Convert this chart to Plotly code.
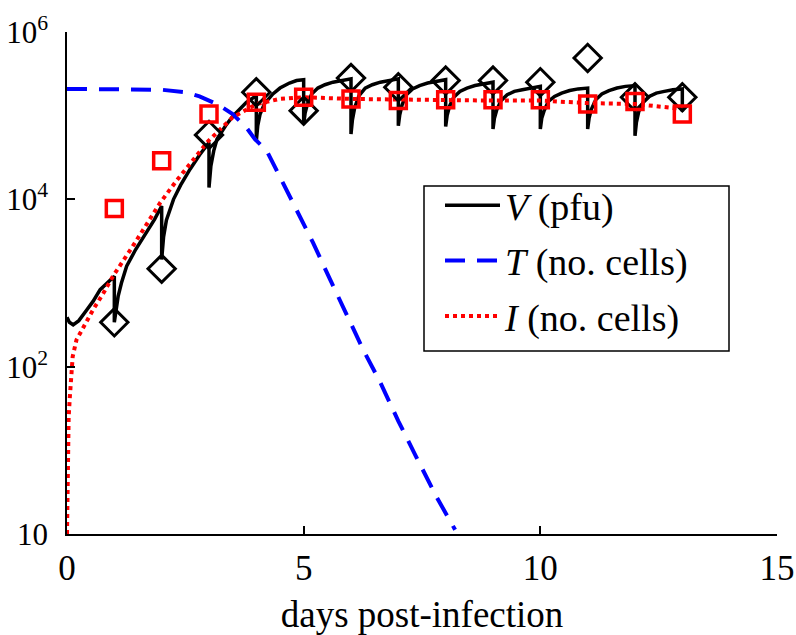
import plotly.graph_objects as go

# ---------------- data ----------------
days = [1, 2, 3, 4, 5, 6, 7, 8, 9, 10, 11, 12, 13]
V_data = [339, 1479, 58900, 190500, 114800, 281800, 218800, 263000, 263000, 251200, 489800, 166000, 166000]
I_data = [7760, 28840, 104700, 144500, 166000, 158500, 151400, 154900, 154900, 154900, 138000, 147900, 104700]

# V model (log10 values), sawtooth with a reset at each sampling day
V_t = [
    0, 0.05, 0.13, 0.25, 0.42, 0.55, 0.7, 0.85, 1.0,
    1.0, 1.04, 1.08, 1.15, 1.26, 1.45, 1.68, 1.85, 2.0,
    2.0, 2.04, 2.1, 2.25, 2.4, 2.6, 2.8, 3.0,
    3.0, 3.04, 3.1, 3.17, 3.35, 3.5, 3.79, 4.0,
    4.0, 4.03, 4.08, 4.17, 4.35, 4.5, 4.7, 4.85, 5.0,
    5.0, 5.03, 5.08, 5.17, 5.3, 5.45, 5.62, 5.8, 6.0,
    6.0, 6.03, 6.08, 6.17, 6.3, 6.45, 6.62, 6.8, 7.0,
    7.0, 7.03, 7.08, 7.17, 7.3, 7.45, 7.62, 7.8, 8.0,
    8.0, 8.03, 8.08, 8.17, 8.3, 8.45, 8.62, 8.8, 9.0,
    9.0, 9.03, 9.08, 9.17, 9.3, 9.45, 9.62, 9.8, 10.0,
    10.0, 10.03, 10.08, 10.17, 10.3, 10.45, 10.62, 10.8, 11.0,
    11.0, 11.03, 11.08, 11.17, 11.3, 11.45, 11.62, 11.8, 12.0,
    12.0, 12.03, 12.08, 12.17, 12.3, 12.45, 12.62, 12.8, 13.0,
    13.0,
]
V_log10 = [
    2.59, 2.53, 2.50, 2.55, 2.68, 2.78, 2.92, 3.00, 3.08,
    2.53, 2.72, 2.84, 3.00, 3.20, 3.40, 3.60, 3.76, 3.92,
    3.28, 3.55, 3.75, 4.00, 4.17, 4.36, 4.53, 4.68,
    4.14, 4.40, 4.58, 4.72, 4.88, 4.99, 5.16, 5.24,
    4.70, 4.88, 5.02, 5.14, 5.26, 5.33, 5.39, 5.42, 5.43,
    4.90, 5.03, 5.14, 5.26, 5.33, 5.37, 5.40, 5.42, 5.44,
    4.78, 4.95, 5.10, 5.24, 5.33, 5.37, 5.40, 5.42, 5.44,
    4.88, 5.01, 5.13, 5.25, 5.32, 5.36, 5.39, 5.41, 5.43,
    4.87, 5.00, 5.11, 5.22, 5.29, 5.33, 5.36, 5.38, 5.40,
    4.84, 4.97, 5.07, 5.18, 5.25, 5.29, 5.31, 5.33, 5.35,
    4.84, 4.97, 5.06, 5.17, 5.23, 5.27, 5.30, 5.32, 5.33,
    4.84, 4.97, 5.08, 5.19, 5.26, 5.30, 5.33, 5.35, 5.36,
    4.76, 4.92, 5.05, 5.16, 5.23, 5.27, 5.29, 5.31, 5.32,
    5.05,
]

# T model (target cells, log10)
T_t = [0, 1, 2, 2.5, 2.8, 3.2, 3.5, 3.8, 3.97, 4.22, 4.5, 4.78, 5.2, 5.56, 5.88,
       6.26, 6.62, 7.0, 7.38, 7.81, 8.2]
T_log10 = [5.32, 5.32, 5.31, 5.28, 5.23, 5.13, 5.02, 4.85, 4.72, 4.58, 4.26, 3.96, 3.48,
           3.04, 2.65, 2.20, 1.81, 1.35, 0.92, 0.44, 0.05]

# I model (infected cells, log10)
I_t = [0, 0.005, 0.015, 0.035, 0.06, 0.12, 0.2, 0.35, 0.55, 0.77, 0.97, 1.39, 1.97,
       2.31, 2.67, 2.99, 3.5, 4.01, 4.5, 5, 6, 7, 8, 9, 10, 11, 12, 13]
I_log10 = [0, 0.5, 1.0, 1.4, 1.64, 2.12, 2.32, 2.48, 2.68, 2.88, 3.08, 3.44, 3.96,
           4.22, 4.48, 4.70, 4.98, 5.14, 5.20, 5.22, 5.20, 5.19, 5.19, 5.18, 5.18, 5.15,
           5.14, 5.08]

x_ticks = [0, 5, 10, 15]
y_tickvals = [1, 100, 10000, 1000000]
y_ticktext = ["10", "10<sup>2</sup>", "10<sup>4</sup>", "10<sup>6</sup>"]

legend_names = ["<i>V</i> (pfu)", "<i>T</i> (no. cells)", "<i>I</i> (no. cells)"]

# ---------------- figure ----------------
FONT = "Liberation Serif, Times New Roman, Times, DejaVu Serif, Noto Serif, serif"
BLUE = "#0000ff"
RED = "#ff0000"

# plot area in page pixels (left, right, top, bottom)
PL, PR, PT, PB = 67, 777, 32, 534
PW, PH = PR - PL, PB - PT


def px_x(x):
    return (x - PL) / PW


def px_y(y):
    return (PB - y) / PH


fig = go.Figure()

fig.add_trace(go.Scatter(
    x=V_t, y=[10 ** v for v in V_log10], mode="lines",
    line=dict(color="black", width=3.5),
    name=legend_names[0], legendgroup="V"))
fig.add_trace(go.Scatter(
    x=T_t, y=[10 ** v for v in T_log10], mode="lines",
    line=dict(color=BLUE, width=4, dash="20px,12px"),
    name=legend_names[1], legendgroup="T"))
fig.add_trace(go.Scatter(
    x=I_t, y=[10 ** v for v in I_log10], mode="lines",
    line=dict(color=RED, width=4, dash="4px,4px"),
    name=legend_names[2], legendgroup="I"))

fig.add_trace(go.Scatter(
    x=days, y=V_data, mode="markers", showlegend=False,
    marker=dict(symbol="diamond-open", size=21, color="black",
                line=dict(color="black", width=3))))
fig.add_trace(go.Scatter(
    x=days, y=I_data, mode="markers", showlegend=False,
    marker=dict(symbol="square-open", size=16, color=RED,
                line=dict(color=RED, width=3.5))))

fig.update_layout(
    width=796, height=635,
    margin=dict(l=PL, r=796 - PR, t=PT, b=635 - PB, autoexpand=False),
    paper_bgcolor="white", plot_bgcolor="white",
    font=dict(family=FONT, color="black"),
    showlegend=True,
    legend=dict(
        x=px_x(440), y=px_y(174), xanchor="left", yanchor="top",
        bgcolor="rgba(0,0,0,0)", borderwidth=0,
        font=dict(family=FONT, size=38, color="black"),
        traceorder="grouped", tracegroupgap=3, itemwidth=55,
    ),
    shapes=[dict(
        type="rect", xref="paper", yref="paper",
        x0=px_x(424), x1=px_x(729), y0=px_y(351), y1=px_y(186),
        line=dict(color="black", width=1.5), fillcolor="white", layer="above",
    )],
)

fig.update_xaxes(
    range=[0, 15], tickvals=x_ticks, ticktext=[str(v) for v in x_ticks],
    showline=True, linecolor="black", linewidth=1.5,
    ticks="inside", ticklen=8, tickwidth=1.5, tickcolor="black",
    showgrid=False, zeroline=False, automargin=False,
    tickfont=dict(family=FONT, size=35, color="black"),
    ticklabelstandoff=2,
    title=dict(text="days post-infection", font=dict(family=FONT, size=37, color="black"),
               standoff=19),
)
fig.update_yaxes(
    type="log", range=[0, 6], tickvals=y_tickvals, ticktext=y_ticktext,
    showline=True, linecolor="black", linewidth=1.5,
    ticks="inside", ticklen=8, tickwidth=1.5, tickcolor="black",
    showgrid=False, zeroline=False, automargin=False,
    tickfont=dict(family=FONT, size=31, color="black"),
    ticklabelstandoff=11,
)

fig.write_html(
    "out.html",
    config={"displayModeBar": False},
    post_script="document.body.style.margin='0px';document.body.style.overflow='hidden';",
)
